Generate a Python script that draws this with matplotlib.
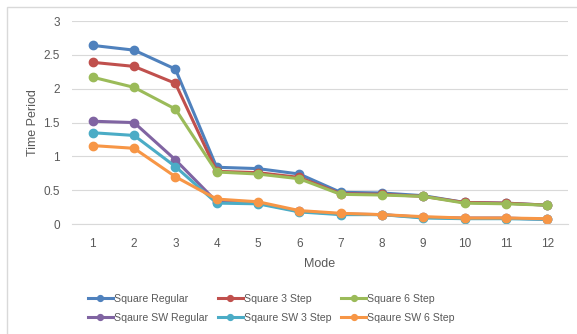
import matplotlib.pyplot as plt
from matplotlib.patches import Rectangle

modes = [1, 2, 3, 4, 5, 6, 7, 8, 9, 10, 11, 12]

square_regular = [2.64, 2.57, 2.29, 0.84, 0.82, 0.74, 0.47, 0.46, 0.42, 0.32, 0.31, 0.28]
square_3_step = [2.39, 2.33, 2.08, 0.78, 0.76, 0.69, 0.45, 0.44, 0.41, 0.32, 0.31, 0.28]
square_6_step = [2.17, 2.02, 1.70, 0.77, 0.74, 0.67, 0.44, 0.43, 0.41, 0.31, 0.30, 0.28]
sw_regular = [1.52, 1.50, 0.95, 0.33, 0.31, 0.19, 0.15, 0.14, 0.10, 0.09, 0.09, 0.07]
sw_3_step = [1.35, 1.31, 0.85, 0.31, 0.30, 0.18, 0.14, 0.14, 0.09, 0.08, 0.08, 0.07]
sw_6_step = [1.16, 1.12, 0.70, 0.37, 0.33, 0.20, 0.16, 0.14, 0.11, 0.09, 0.09, 0.08]

labels = ["Square Regular", "Square 3 Step", "Square 6 Step",
          "Sqaure SW Regular", "Sqaure SW 3 Step", "Sqaure SW 6 Step"]
series = [square_regular, square_3_step, square_6_step, sw_regular, sw_3_step, sw_6_step]
colors = ['#4F81BD', '#C0504D', '#9BBB59', '#8064A2', '#4BACC6', '#F79646']

plt.rcParams['font.family'] = ['Liberation Sans', 'DejaVu Sans']

fig = plt.figure(figsize=(5.77, 3.34), dpi=100)
ax = fig.add_axes([0.125, 0.329, 0.859, 0.608])

# outer chart border
fig.patches.append(Rectangle((0.012, -0.02), 1.0, 1.0, transform=fig.transFigure,
                             fill=False, edgecolor='#D9D9D9', linewidth=1.0))

handles = []
for vals, lab, col in zip(series, labels, colors):
    h, = ax.plot(modes, vals, color=col, linewidth=2.2, marker='o', markersize=6, label=lab)
    handles.append(h)

ax.set_xlim(0.5, 12.5)
ax.set_ylim(0, 3)
ax.set_xticks(modes)
ax.set_yticks([0, 0.5, 1, 1.5, 2, 2.5, 3])
ax.set_yticklabels(['0', '0.5', '1', '1.5', '2', '2.5', '3'])
ax.grid(axis='y', color='#D9D9D9', linewidth=0.8)
ax.set_axisbelow(True)
for s in ['top', 'right', 'left']:
    ax.spines[s].set_visible(False)
ax.spines['bottom'].set_color('#D9D9D9')
ax.tick_params(axis='x', length=0, labelsize=8.5, labelcolor='#595959', pad=10)
ax.tick_params(axis='y', length=0, labelsize=8.5, labelcolor='#595959', pad=9)
ax.set_xlabel("Mode", fontsize=9, color='#595959', labelpad=6)
ax.set_ylabel("Time Period", fontsize=9, color='#595959', labelpad=3)

# row-wise order for a 3-column legend
order = [0, 3, 1, 4, 2, 5]
leg = fig.legend([handles[i] for i in order], [labels[i] for i in order],
                 loc='center', bbox_to_anchor=(0.47, 0.077), ncol=3,
                 frameon=False, fontsize=7.6, handlelength=2.4, columnspacing=0.9,
                 handletextpad=0.1, labelspacing=0.85, markerscale=0.7)
for t in leg.get_texts():
    t.set_color('#595959')

fig.savefig("out.png", dpi=100)
